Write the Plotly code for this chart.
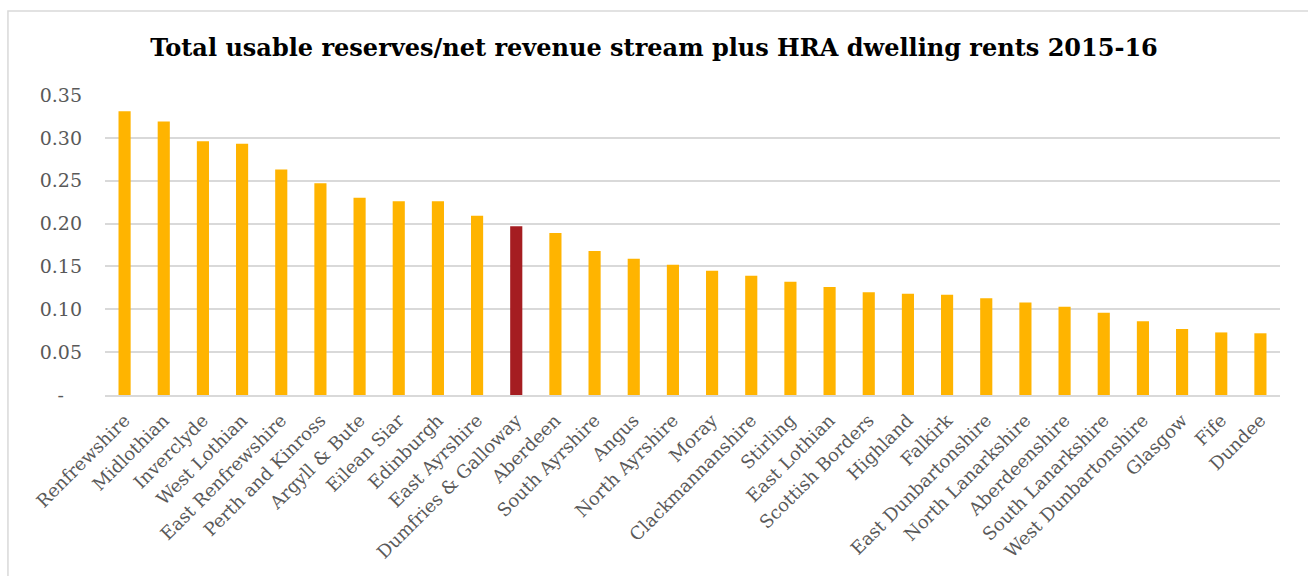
import plotly.graph_objects as go

councils = ["Renfrewshire", "Midlothian", "Inverclyde", "West Lothian", "East Renfrewshire",
            "Perth and Kinross", "Argyll & Bute", "Eilean Siar", "Edinburgh", "East Ayrshire",
            "Dumfries & Galloway", "Aberdeen", "South Ayrshire", "Angus", "North Ayrshire",
            "Moray", "Clackmannanshire", "Stirling", "East Lothian", "Scottish Borders",
            "Highland", "Falkirk", "East Dunbartonshire", "North Lanarkshire", "Aberdeenshire",
            "South Lanarkshire", "West Dunbartonshire", "Glasgow", "Fife", "Dundee"]
ratio = [0.331, 0.319, 0.296, 0.293, 0.263, 0.247, 0.230, 0.226, 0.226, 0.209,
         0.197, 0.189, 0.168, 0.159, 0.152, 0.145, 0.139, 0.132, 0.126, 0.120,
         0.118, 0.117, 0.113, 0.108, 0.103, 0.096, 0.086, 0.077, 0.073, 0.072]
highlight = "Dumfries & Galloway"

y_tickvals = [0, 0.05, 0.10, 0.15, 0.20, 0.25, 0.30, 0.35]
y_ticktext = ["-\u00a0\u00a0\u00a0", "0.05", "0.10", "0.15", "0.20", "0.25", "0.30", "0.35"]

ORANGE = "#FFB400"
RED = "#A51D21"
colors = [RED if c == highlight else ORANGE for c in councils]

FONT = "DejaVu Serif"

fig = go.Figure(go.Bar(x=councils, y=ratio, marker=dict(color=colors, line=dict(width=0)),
                       width=0.31))

fig.update_layout(
    width=1308, height=576,
    margin=dict(l=105, r=28, t=95, b=181),
    paper_bgcolor="white", plot_bgcolor="white",
    title=dict(text="<b>Total usable reserves/net revenue stream plus HRA dwelling rents 2015-16</b>",
               x=0.5, xanchor="center", y=0.918, yanchor="middle",
               font=dict(family=FONT, size=24, color="#000000")),
    showlegend=False,
    shapes=[dict(type="rect", xref="paper", yref="paper",
                 x0=-0.0826, x1=1.2, y0=-1.0, y1=1.28,
                 line=dict(color="#D9D9D9", width=1.5), fillcolor="rgba(0,0,0,0)", layer="below")],
)
fig.update_xaxes(tickangle=-45, tickfont=dict(family=FONT, size=18, color="#595959"),
                 showline=True, linecolor="#D9D9D9", linewidth=1.5, showgrid=False,
                 ticks="", range=[-0.5, len(councils) - 0.5], ticklabelstandoff=6)
fig.update_yaxes(range=[0, 0.35], tickvals=y_tickvals, ticktext=y_ticktext,
                 tickfont=dict(family=FONT, size=19, color="#595959"),
                 showgrid=True, gridcolor="#D9D9D9", gridwidth=1.5, zeroline=False,
                 showline=False, ticks="", ticklabelstandoff=22)

fig.write_html("out.html")
